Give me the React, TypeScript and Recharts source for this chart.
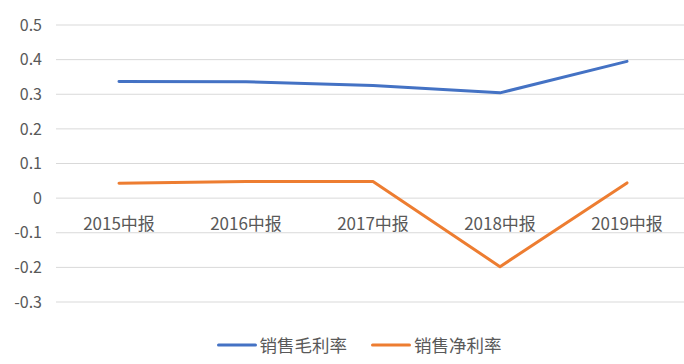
import { CartesianGrid, Legend, Line, LineChart, XAxis, YAxis } from "recharts"

const periods = ["2015中报", "2016中报", "2017中报", "2018中报", "2019中报"]
const grossMargin = [0.337, 0.336, 0.325, 0.304, 0.395]
const netMargin = [0.043, 0.048, 0.048, -0.198, 0.044]
const yTicks = [-0.3, -0.2, -0.1, 0, 0.1, 0.2, 0.3, 0.4, 0.5]
const yMin = -0.3
const yMax = 0.5

const data = periods.map((p, i) => ({ period: p, gross: grossMargin[i], net: netMargin[i] }))

const font = '"Noto Sans CJK SC", "Noto Sans", sans-serif'
const textColor = "#595959"
const plotTop = 25
const plotHeight = 277

// category labels sit just under the zero line, like excel does
const CategoryTick = (props: any) => {
  const { x, payload } = props
  const zeroY = plotTop + plotHeight * (yMax / (yMax - yMin))
  return (
    <text x={x} y={zeroY + 24} textAnchor="middle" dominantBaseline="central" fill={textColor} fontSize={17} fontFamily={font}>
      {payload.value}
    </text>
  )
}

const LegendContent = (props: any) => {
  const { payload } = props
  return (
    <div style={{ display: "flex", justifyContent: "center", paddingLeft: 28, height: 24, alignItems: "center" }}>
      {payload.map((entry: any, i: number) => (
        <div key={i} style={{ display: "flex", alignItems: "center", marginLeft: i ? 24 : 0 }}>
          <svg width={40} height={6}>
            <line x1={1.5} y1={3} x2={38.5} y2={3} stroke={entry.color} strokeWidth={3} strokeLinecap="round" />
          </svg>
          <span style={{ marginLeft: 3, fontSize: 17.5, fontFamily: font, color: textColor, lineHeight: "24px" }}>{entry.value}</span>
        </div>
      ))}
    </div>
  )
}

export default function App() {
  return (
    <div style={{ position: "fixed", left: 0, top: 0, width: 684, height: 364, overflow: "hidden", background: "#fff" }}>
      <LineChart width={692} height={364} data={data} margin={{ top: plotTop, right: 2, bottom: 7, left: 0 }}>
        <CartesianGrid vertical={false} stroke="#d9d9d9" strokeWidth={1} />
        <XAxis
          dataKey="period"
          axisLine={false}
          tickLine={false}
          tickSize={0}
          tickMargin={0}
          height={31}
          interval={0}
          padding={{ left: 63, right: 63 }}
          tick={<CategoryTick />}
        />
        <YAxis
          domain={[yMin, yMax]}
          ticks={yTicks}
          axisLine={false}
          tickLine={false}
          tickSize={0}
          tickMargin={14}
          width={56}
          tick={{ fill: textColor, fontSize: 16, fontFamily: font }}
        />
        <Legend verticalAlign="bottom" itemSorter="dataKey" content={<LegendContent />} />
        <Line
          type="linear"
          dataKey="gross"
          name="销售毛利率"
          stroke="#4472C4"
          strokeWidth={3}
          strokeLinecap="round"
          strokeLinejoin="round"
          dot={false}
          isAnimationActive={false}
        />
        <Line
          type="linear"
          dataKey="net"
          name="销售净利率"
          stroke="#ED7D31"
          strokeWidth={3}
          strokeLinecap="round"
          strokeLinejoin="round"
          dot={false}
          isAnimationActive={false}
        />
      </LineChart>
    </div>
  )
}
